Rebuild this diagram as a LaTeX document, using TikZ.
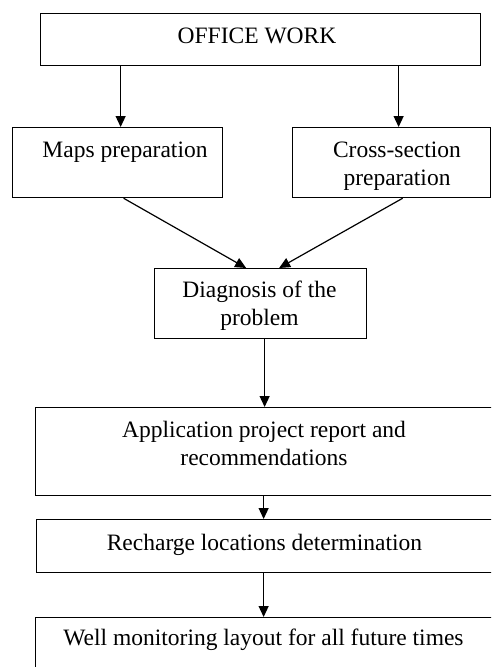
\documentclass[tikz,border=0pt]{standalone}
\usepackage{fontspec}
\setmainfont{Liberation Serif}
\usetikzlibrary{arrows.meta}
\begin{document}
\begin{tikzpicture}[x=1pt,y=-1pt,
  box/.style={draw, line width=1.25pt, rectangle, inner sep=0pt, anchor=north west},
  lbl/.style={font=\fontsize{23.5}{27.5}\selectfont, anchor=base, inner sep=0pt, align=center},
  arr/.style={line width=1.2pt, -{Triangle[length=11pt,width=10pt]}}]
\useasboundingbox (0,0) rectangle (491,667);
\clip (0,0) rectangle (491,667);
\node[box, minimum width=440pt, minimum height=52pt] (office) at (40,13) {};
\node[box, minimum width=210pt, minimum height=70pt] (maps) at (12,127) {};
\node[box, minimum width=198pt, minimum height=70pt] (cross) at (292,127) {};
\node[box, minimum width=212pt, minimum height=70pt] (diag) at (154,268) {};
\node[box, minimum width=470pt, minimum height=88pt] (app) at (35,407) {};
\node[box, minimum width=470pt, minimum height=53pt] (rech) at (36,519) {};
\node[box, minimum width=470pt, minimum height=80pt] (well) at (35,617) {};
\node[lbl] (t1) at (257,43) {OFFICE WORK};
\node[lbl] (t2) at (125,157) {Maps preparation};
\node[lbl] (t3) at (397,185) {Cross-section\\preparation};
\node[lbl] (t4) at (259.5,325) {Diagnosis of the\\problem};
\node[lbl] (t5) at (264,465) {Application project report and\\recommendations};
\node[lbl] (t6) at (264.5,550) {Recharge locations determination};
\node[lbl] (t7) at (263.5,645) {Well monitoring layout for all future times};
\draw[arr] ([xshift=3pt]maps.north |- office.south) -- ([xshift=3pt]maps.north);
\draw[arr] ([xshift=7pt]cross.north |- office.south) -- ([xshift=7pt]cross.north);
\draw[arr] ([xshift=6pt]maps.south) -- ([xshift=-14.5pt]diag.north);
\draw[arr] ([xshift=11pt]cross.south) -- ([xshift=18.5pt]diag.north);
\draw[arr] ([xshift=4pt]diag.south) -- ([xshift=4pt]diag.south |- app.north);
\draw[arr] ([xshift=3pt]diag.south |- app.south) -- ([xshift=3pt]diag.south |- rech.north);
\draw[arr] ([xshift=3pt]diag.south |- rech.south) -- ([xshift=3pt]diag.south |- well.north);
\end{tikzpicture}
\end{document}
